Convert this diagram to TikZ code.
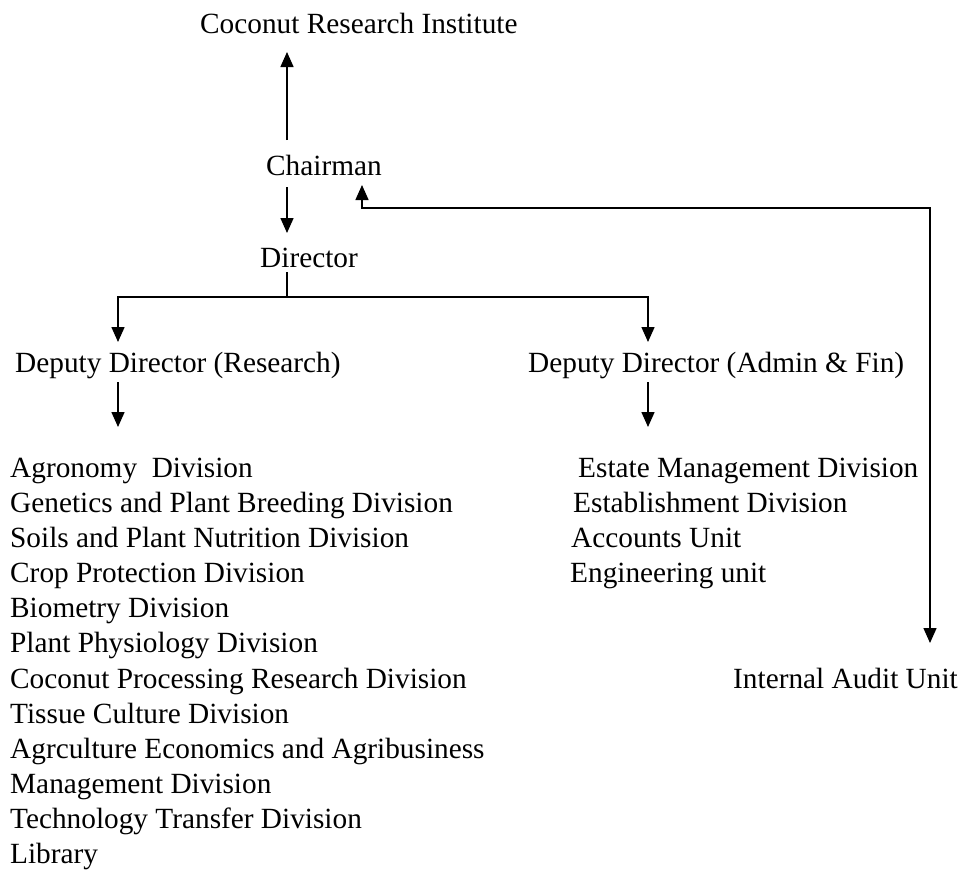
\documentclass[tikz,border=0pt]{standalone}
\usepackage{fontspec}
\setmainfont{Liberation Serif}
\usetikzlibrary{arrows.meta}
\begin{document}
\begin{tikzpicture}[x=1pt,y=-1pt,
  lbl/.style={anchor=base west, inner sep=0pt, font=\fontsize{29.3}{35}\selectfont},
  conn/.style={line width=1.5pt, line join=miter},
  tip/.tip={Triangle[length=15pt,width=13pt]},
  arr/.style={conn, -tip},
  darr/.style={conn, tip-tip}]
\useasboundingbox (0,0) rectangle (966,871);

% top chain
\node[lbl] (title) at (200,33) {Coconut Research Institute};
\node[lbl] (chair) at (266,175) {Chairman};
\node[lbl] (dir)   at (260,267) {Director};
\node[lbl] (ddr)   at (15,372)  {Deputy Director (Research)};
\node[lbl] (dda)   at (528,372) {Deputy Director (Admin \& Fin)};

% research divisions
\node[lbl] (r1)  at (10,477) {Agronomy~\ Division};
\node[lbl] (r2)  at (10,512) {Genetics and Plant Breeding Division};
\node[lbl] (r3)  at (10,547) {Soils and Plant Nutrition Division};
\node[lbl] (r4)  at (10,582) {Crop Protection Division};
\node[lbl] (r5)  at (10,617) {Biometry Division};
\node[lbl] (r6)  at (10,652) {Plant Physiology Division};
\node[lbl] (r7)  at (10,688) {Coconut Processing Research Division};
\node[lbl] (r8)  at (10,723) {Tissue Culture Division};
\node[lbl] (r9)  at (10,758) {Agrculture Economics and Agribusiness};
\node[lbl] (r10) at (10,793) {Management Division};
\node[lbl] (r11) at (10,828) {Technology Transfer Division};
\node[lbl] (r12) at (10,863) {Library};

% admin divisions
\node[lbl] (a1) at (578,477) {Estate Management Division};
\node[lbl] (a2) at (573,512) {Establishment Division};
\node[lbl] (a3) at (571,547) {Accounts Unit};
\node[lbl] (a4) at (570,582) {Engineering unit};

\node[lbl] (audit) at (733,688) {Internal Audit Unit};

% connector points
\coordinate (cUpS)  at (287,140);
\coordinate (cUpE)  at (287,52);
\coordinate (cDnS)  at (287,187);
\coordinate (cDnE)  at (287,233);
\coordinate (dBot)  at (287,272);
\coordinate (bus)   at (287,297);
\coordinate (ddrT)  at (118,342);
\coordinate (ddaT)  at (648,342);
\coordinate (ddrB)  at (118,382);
\coordinate (ddrL)  at (118,427);
\coordinate (ddaB)  at (648,382);
\coordinate (ddaL)  at (648,427);
\coordinate (fbTip) at (362,185);
\coordinate (fbC1)  at (362,208);
\coordinate (fbC2)  at (930,208);
\coordinate (auTip) at (930,643);

\draw[arr] (cUpS) -- (cUpE);
\draw[arr] (cDnS) -- (cDnE);
\draw[conn] (dBot) -- (bus);
\draw[arr] (bus) -| (ddrT);
\draw[arr] (bus) -| (ddaT);
\draw[arr] (ddrB) -- (ddrL);
\draw[arr] (ddaB) -- (ddaL);
\draw[darr] (fbTip) -- (fbC1) -- (fbC2) -- (auTip);
\end{tikzpicture}
\end{document}
